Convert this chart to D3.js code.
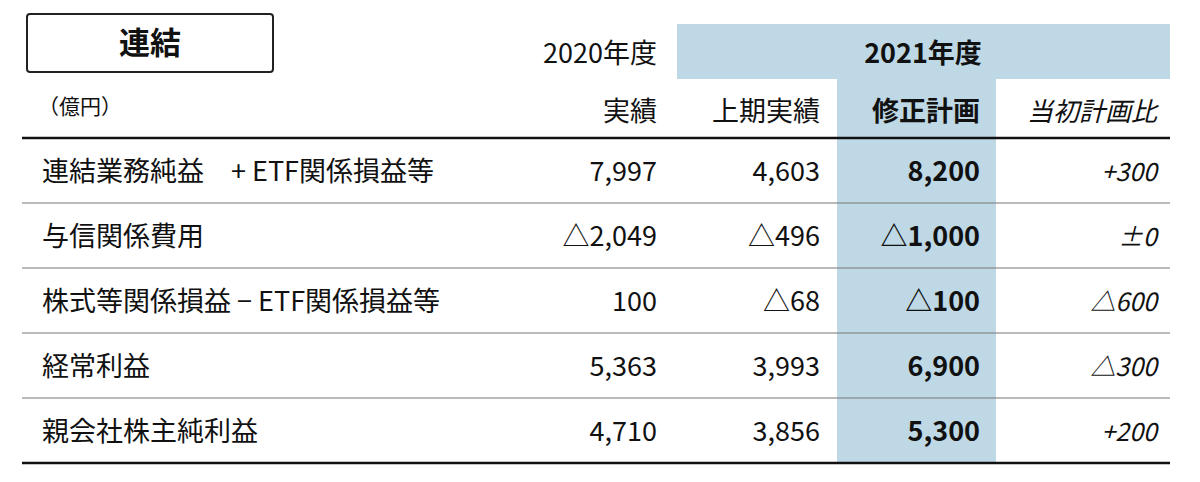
<!DOCTYPE html>
<html><head><meta charset="utf-8">
<script src="https://cdn.jsdelivr.net/npm/d3@7"></script>
<style>body{margin:0;background:#fff}text{font-family:"Liberation Sans Narrow","Noto Sans CJK JP",sans-serif;fill:#111}</style>
</head><body><svg id="c" width="1200" height="482"></svg>
<script>
const rowLabels=["連結業務純益　+ ETF関係損益等","与信関係費用","株式等関係損益 − ETF関係損益等","経常利益","親会社株主純利益"];
const actual2020=["7,997","△2,049","100","5,363","4,710"];
const firstHalf2021=["4,603","△496","△68","3,993","3,856"];
const revisedPlan=["8,200","△1,000","△100","6,900","5,300"];
const vsInitial=["+300","±0","△600","△300","+200"];
const colHeaders=["実績","上期実績","修正計画","当初計画比"];
const svg=d3.select("#c");
const blue="#bed8e5";
const y=d3.scaleBand().domain(d3.range(rowLabels.length)).range([138,463]);
svg.append("rect").attr("x",677).attr("y",24).attr("width",493).attr("height",55).attr("fill",blue);
svg.append("rect").attr("x",837).attr("y",79).attr("width",159).attr("height",384).attr("fill",blue);
svg.append("rect").attr("x",27).attr("y",14).attr("width",246).attr("height",58).attr("rx",3).attr("fill","none").attr("stroke","#222").attr("stroke-width",2);
svg.append("text").attr("x",150).attr("y",54).attr("text-anchor","middle").attr("font-size",31).attr("font-weight","bold").style("font-family","Noto Sans CJK JP").text("連結");
svg.append("text").attr("x",657).attr("y",63).attr("text-anchor","end").attr("font-size",27).style("font-family","Noto Sans CJK JP").text("2020年度");
svg.append("text").attr("x",923).attr("y",63).attr("text-anchor","middle").attr("font-size",27).attr("font-weight","bold").style("font-family","Noto Sans CJK JP").text("2021年度");
svg.append("text").attr("x",38).attr("y",114).attr("font-size",21).style("font-family","Noto Sans CJK JP").text("（億円）");
const colX=[657,820,980,1157];
const cols=[actual2020,firstHalf2021,revisedPlan,vsInitial];
colHeaders.forEach((h,i)=>{
  const t=svg.append("text").attr("x",colX[i]).attr("y",121).attr("text-anchor","end").attr("font-size",27).style("font-family","Noto Sans CJK JP").text(h);
  if(i==2)t.attr("font-weight","bold");
  if(i==3)t.attr("font-style","italic").attr("font-size",26);
});
svg.append("line").attr("x1",22).attr("x2",1170).attr("y1",y(0)).attr("y2",y(0)).attr("stroke","#111").attr("stroke-width",2.5);
d3.range(1,rowLabels.length).forEach(i=>svg.append("line").attr("x1",22).attr("x2",1170).attr("y1",y(i)).attr("y2",y(i)).attr("stroke","#777").attr("stroke-width",1.2));
svg.append("line").attr("x1",22).attr("x2",1170).attr("y1",463).attr("y2",463).attr("stroke","#111").attr("stroke-width",2.5);
rowLabels.forEach((l,r)=>{
  const cy=y(r)+y.bandwidth()/2+10;
  svg.append("text").attr("x",42).attr("y",cy).attr("font-size",27).style("font-family","Noto Sans CJK JP").text(l);
  cols.forEach((c,i)=>{
    const t=svg.append("text").attr("x",colX[i]).attr("y",cy).attr("text-anchor","end").attr("font-size",i==3?25:27).text(c[r]);
    if(i==2)t.attr("font-weight","bold");
    if(i==3)t.attr("font-style","italic");
  });
});
</script></body></html>
